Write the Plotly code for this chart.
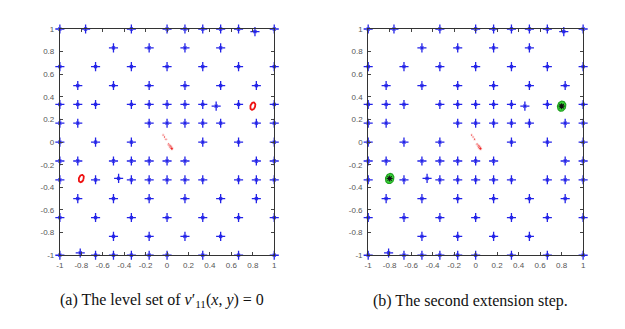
import numpy as np
import plotly.graph_objects as go

# ---- data ----
pts_x = [
    -1, -0.76, -0.333, 0, 0.167, 0.333, 0.5, 0.667, 1, 0.82,
    -0.5, -0.167, 0.167, 0.5,
    -1, -0.667, -0.333, 0, 0.333, 0.667, 1,
    -0.833, -0.5, -0.167, 0.167, 0.5, 0.833,
    -1, -0.833, -0.667, -0.333, -0.167, 0, 0.167, 0.333, 0.667, 1, 0.458,
    -1, -0.833, -0.167, 0, 0.167, 0.333, 0.5, 0.833, 1,
    -1, -0.667, -0.333, 0.333, 0.667, 1,
    -1, -0.833, -0.5, -0.333, -0.167, 0, 0.167, 0.833, 1,
    -1, -0.667, -0.333, -0.167, 0, 0.167, 0.333, 0.667, 0.833, 1, -0.452,
    -0.833, -0.5, -0.167, 0.167, 0.5, 0.833,
    -1, -0.667, -0.333, 0, 0.333, 0.667, 1,
    -0.5, -0.167, 0.167, 0.5,
    -1, -0.667, -0.5, -0.333, -0.167, 0, 0.333, 0.667, 1, -0.81,
]
pts_y = [
    1, 1, 1, 1, 1, 1, 1, 1, 1, 0.977,
    0.833, 0.833, 0.833, 0.833,
    0.667, 0.667, 0.667, 0.667, 0.667, 0.667, 0.667,
    0.5, 0.5, 0.5, 0.5, 0.5, 0.5,
    0.333, 0.333, 0.333, 0.333, 0.333, 0.333, 0.333, 0.333, 0.333, 0.333, 0.318,
    0.167, 0.167, 0.167, 0.167, 0.167, 0.167, 0.167, 0.167, 0.167,
    0, 0, 0, 0, 0, 0,
    -0.167, -0.167, -0.167, -0.167, -0.167, -0.167, -0.167, -0.167, -0.167,
    -0.333, -0.333, -0.333, -0.333, -0.333, -0.333, -0.333, -0.333, -0.333, -0.333, -0.321,
    -0.5, -0.5, -0.5, -0.5, -0.5, -0.5,
    -0.667, -0.667, -0.667, -0.667, -0.667, -0.667, -0.667,
    -0.833, -0.833, -0.833, -0.833,
    -1, -1, -1, -1, -1, -1, -1, -1, -1, -0.98,
]

# red trail near the centre
trail_x = [-0.037, -0.024, -0.01, 0.014, 0.024, 0.032, 0.038, 0.045]
trail_y = [0.062, 0.045, 0.026, -0.018, -0.03, -0.04, -0.05, -0.058]
trail_size = [2.5, 2.5, 2.5, 3, 3.5, 4, 4, 3.5]

# level-set ellipses (centre x, centre y, semi-axis x, semi-axis y, tilt deg)
ell_cx = [0.8, -0.8]
ell_cy = [0.318, -0.322]
ell_a = [0.022, 0.022]
ell_b = [0.034, 0.034]
ell_tilt = [22, 22]

# filled (extension) ellipses in panel b
gell_a = [0.038, 0.038]
gell_b = [0.046, 0.046]

tick_vals = [-1, -0.8, -0.6, -0.4, -0.2, 0, 0.2, 0.4, 0.6, 0.8, 1]
tick_text = ["-1", "-0.8", "-0.6", "-0.4", "-0.2", "0", "0.2", "0.4", "0.6", "0.8", "1"]

captions = ["(a) The level set of <i>v</i>\u2032<sub>11</sub>(<i>x</i>, <i>y</i>) = 0",
            "(b) The second extension step."]


def ellipse(cx, cy, a, b, tilt):
    t = np.linspace(0, 2 * np.pi, 60)
    th = np.deg2rad(tilt)
    ex = a * np.cos(t)
    ey = b * np.sin(t)
    x = cx + ex * np.cos(th) + ey * np.sin(th)
    y = cy - ex * np.sin(th) + ey * np.cos(th)
    return x, y


fig = go.Figure()
BLUE = "#2323e8"

for k, (xa, ya) in enumerate([("x", "y"), ("x2", "y2")]):
    fig.add_trace(go.Scatter(
        x=pts_x, y=pts_y, mode="markers", xaxis=xa, yaxis=ya, cliponaxis=False,
        marker=dict(symbol="cross-thin-open", size=6.5, color=BLUE,
                    line=dict(width=1.3, color=BLUE)),
        showlegend=False, hoverinfo="skip"))
    fig.add_trace(go.Scatter(
        x=pts_x, y=pts_y, mode="markers", xaxis=xa, yaxis=ya, cliponaxis=False,
        marker=dict(symbol="x-thin-open", size=3, color=BLUE,
                    line=dict(width=1.1, color=BLUE)),
        showlegend=False, hoverinfo="skip"))
    fig.add_trace(go.Scatter(
        x=trail_x, y=trail_y, mode="markers", xaxis=xa, yaxis=ya,
        marker=dict(size=trail_size, color="#ee1111"),
        showlegend=False, hoverinfo="skip"))
    for i in range(len(ell_cx)):
        if k == 0:
            ex, ey = ellipse(ell_cx[i], ell_cy[i], ell_a[i], ell_b[i], ell_tilt[i])
            fig.add_trace(go.Scatter(
                x=ex, y=ey, mode="lines", xaxis=xa, yaxis=ya,
                line=dict(color="#ee1111", width=1.8),
                showlegend=False, hoverinfo="skip"))
        else:
            ex, ey = ellipse(ell_cx[i], ell_cy[i], gell_a[i], gell_b[i], ell_tilt[i])
            fig.add_trace(go.Scatter(
                x=ex, y=ey, mode="lines", fill="toself", xaxis=xa, yaxis=ya,
                fillcolor="#3ad83a", line=dict(color="#1fa01f", width=1.2),
                showlegend=False, hoverinfo="skip"))
            fig.add_trace(go.Scatter(
                x=[ell_cx[i]], y=[ell_cy[i]], mode="markers", xaxis=xa, yaxis=ya,
                marker=dict(symbol="asterisk-open", size=5, color="#111111",
                            line=dict(width=1.1, color="#111111")),
                showlegend=False, hoverinfo="skip"))

axis_common = dict(
    range=[-1, 1], tickvals=tick_vals, ticktext=tick_text,
    ticks="inside", ticklen=3, tickwidth=1, tickcolor="#444",
    showline=True, linecolor="#333", linewidth=1, mirror="ticks",
    showgrid=False, zeroline=False,
    tickfont=dict(family="Liberation Sans", size=8, color="#555"),
)

ydom = [0.2149, 0.9219]
fig.update_layout(
    width=625, height=329, autosize=False,
    margin=dict(l=0, r=0, t=0, b=0),
    plot_bgcolor="white", paper_bgcolor="white",
    xaxis=dict(domain=[0.0904, 0.4373], anchor="y", ticklabelstandoff=2, **axis_common),
    yaxis=dict(domain=ydom, anchor="x", ticklabelstandoff=3, **axis_common),
    xaxis2=dict(domain=[0.5893, 0.9371], anchor="y2", ticklabelstandoff=2, **axis_common),
    yaxis2=dict(domain=ydom, anchor="x2", ticklabelstandoff=3, **axis_common),
)

cap_x = [160 / 625, 472 / 625]
for cx, txt in zip(cap_x, captions):
    fig.add_annotation(
        x=cx, y=(329 - 305) / 329, xref="paper", yref="paper",
        text=txt, showarrow=False, xanchor="center", yanchor="middle",
        font=dict(family="Liberation Serif", size=16, color="#111"))

fig.write_html("out.html")
